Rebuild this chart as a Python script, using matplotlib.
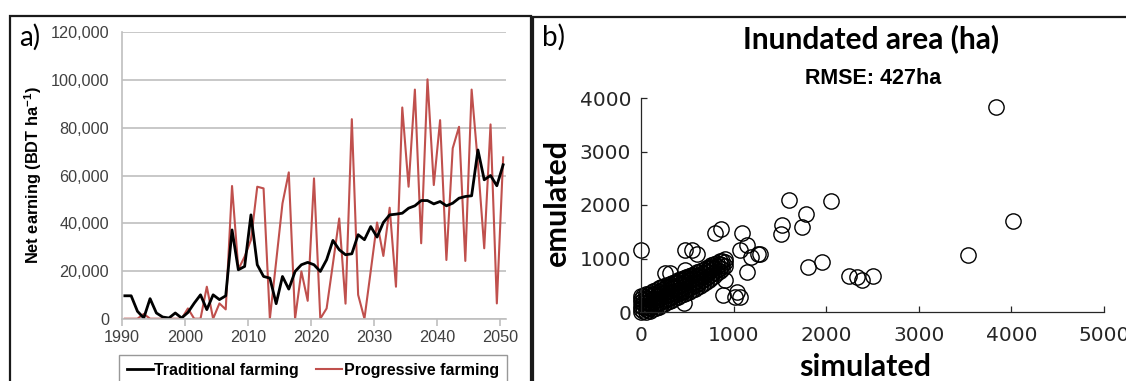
import numpy as np
import matplotlib.pyplot as plt
from matplotlib.patches import Rectangle
from matplotlib.ticker import FuncFormatter

# ---- panel a data (BDT/ha) ----
years = list(range(1990, 2051))
traditional = [9600, 9600, 3100, 300, 8400, 2400, 700, 300, 2400, 300,
               2600, 6500, 10000, 3800, 10000, 8000, 9600, 37200, 20500, 21900,
               43500, 22600, 17700, 17000, 6300, 17700, 12400, 19800, 22600, 23600,
               22600, 19800, 24700, 32800, 28900, 26800, 27200, 35200, 33100, 38600,
               34200, 40300, 43500, 43800, 44200, 46300, 47300, 49500, 49500, 48100,
               49100, 47300, 48400, 50500, 51200, 51500, 70700, 58200, 60000, 55700,
               64500]
progressive = [0, 0, 0, 2000, 0, 0, 0, 0, 0, 0,
               4300, 0, 0, 13400, 0, 6400, 3900, 55600, 20700, 26000,
               33000, 55300, 54600, 0, 24000, 48300, 61300, 0, 19800, 7500,
               58800, 0, 4300, 23000, 42000, 6300, 83600, 10000, 0, 20000,
               40300, 26300, 46500, 13400, 88500, 55300, 96000, 31600, 100300, 56000,
               83200, 24600, 71400, 80400, 24200, 96000, 65000, 29500, 81400, 6400,
               67600]

# ---- panel b data (ha) ----
cluster_sim = [0, 0, 0, 0, 0, 0,
               25, 25, 25, 25, 25,
               50, 50, 50, 50, 50, 50,
               75, 75, 75, 75, 75,
               100, 100, 100, 100, 100, 100,
               130, 130, 130, 130, 130, 130,
               160, 160, 160, 160, 160, 160,
               190, 190, 190, 190, 190, 190,
               220, 220, 220, 220, 220, 220,
               250, 250, 250, 250, 250, 250,
               280, 280, 280, 280, 280, 280,
               310, 310, 310, 310, 310, 310,
               340, 340, 340, 340, 340, 340,
               370, 370, 370, 370, 370, 370,
               400, 400, 400, 400, 400, 400,
               430, 430, 430, 430, 430, 430,
               460, 460, 460, 460, 460, 460,
               490, 490, 490, 490, 490, 490,
               520, 520, 520, 520, 520, 520,
               550, 550, 550, 550, 550, 550,
               580, 580, 580, 580, 580,
               610, 610, 610, 610, 610,
               640, 640, 640, 640, 640,
               670, 670, 670, 670, 670,
               700, 700, 700, 700, 700,
               730, 730, 730, 730, 730,
               760, 760, 760, 760, 760,
               790, 790, 790, 790,
               820, 820, 820, 820,
               850, 850, 850, 850,
               880, 880, 880,
               910, 910, 910]
cluster_emu = [0, 60, 120, 180, 240, 300,
               20, 90, 160, 230, 300,
               0, 50, 120, 190, 260, 330,
               30, 100, 170, 240, 310,
               10, 80, 150, 220, 290, 360,
               50, 120, 190, 260, 330, 390,
               80, 150, 220, 290, 360, 420,
               100, 170, 240, 310, 380, 440,
               130, 200, 270, 340, 410, 460,
               150, 220, 290, 360, 430, 490,
               180, 250, 320, 390, 460, 510,
               200, 270, 340, 410, 480, 530,
               230, 300, 370, 440, 510, 550,
               260, 330, 400, 470, 540, 570,
               280, 350, 420, 490, 560, 590,
               310, 380, 450, 520, 590, 610,
               330, 400, 470, 540, 610, 640,
               360, 430, 500, 570, 640, 660,
               380, 450, 520, 590, 660, 680,
               410, 480, 550, 620, 690, 700,
               430, 500, 570, 640, 710,
               460, 530, 600, 670, 740,
               490, 560, 630, 700, 760,
               520, 590, 660, 730, 790,
               560, 630, 700, 770, 820,
               600, 670, 740, 810, 850,
               640, 710, 780, 850, 880,
               680, 750, 820, 890,
               720, 790, 860, 920,
               760, 830, 900, 950,
               810, 880, 950,
               860, 930, 990]
outlier_sim = [0, 799, 864, 475, 554, 601, 1087, 1141, 1069, 1188, 1267, 1141,
               889, 1033, 1069, 1015, 907, 464, 259, 313, 475,
               1598, 2048, 1782, 1735, 1519, 1508, 1285, 1807, 1958,
               2250, 2329, 2383, 2502, 3535, 4021, 3835]
outlier_emu = [1159, 1471, 1545, 1159, 1159, 1084, 1471, 1252, 1159, 1034, 1084, 753,
               318, 380, 286, 286, 598, 162, 723, 735, 785,
               2093, 2080, 1826, 1595, 1626, 1458, 1084, 835, 929,
               679, 660, 598, 679, 1065, 1707, 3838]

red = '#C0504D'
grey_txt = '#404040'
W, H = 1126, 381

fig = plt.figure(figsize=(W / 100, H / 100), dpi=100)

# panel frames
fig.patches.append(Rectangle((10 / W, -0.05), 521 / W, 1.05 - 16 / H, transform=fig.transFigure,
                             fill=False, edgecolor='#1a1a1a', linewidth=1.6))
fig.patches.append(Rectangle((533 / W, -0.05), 0.6, 1.05 - 17 / H, transform=fig.transFigure,
                             fill=False, edgecolor='#1a1a1a', linewidth=1.6))

# ---------- a) ----------
ax = fig.add_axes([121.7 / W, 1 - 318.7 / H, 384.6 / W, 286.4 / H])
x = np.array(years) + 0.5
ax.plot(x, progressive, color=red, lw=1.5, label='Progressive farming')
ax.plot(x, traditional, color='black', lw=2.0, label='Traditional farming')
ax.set_xlim(1990, 2051)
ax.set_ylim(0, 120000)
ax.set_xticks(range(1990, 2051, 10))
ax.set_yticks(range(0, 120001, 20000))
ax.yaxis.set_major_formatter(FuncFormatter(lambda v, p: f'{int(v):,}'))
ax.grid(axis='y', color='#BFBFBF', lw=1.2)
ax.set_axisbelow(True)
for s in ['top', 'right']:
    ax.spines[s].set_visible(False)
for s in ['left', 'bottom']:
    ax.spines[s].set_color('#BFBFBF')
    ax.spines[s].set_linewidth(1.2)
ax.tick_params(axis='y', length=0, pad=9, labelsize=11.7, labelcolor=grey_txt, labelfontfamily='Liberation Sans')
ax.tick_params(axis='x', length=5, color='#BFBFBF', width=1.2, labelsize=11.7, labelcolor=grey_txt,
               labelfontfamily='Liberation Sans', pad=3)
ax.set_ylabel('Net earning (BDT ha$^{\\mathregular{-1}}$)', fontsize=11.8, fontweight='bold',
              family='Liberation Sans', labelpad=5)
fig.text(19 / W, 1 - 37 / H, 'a)', fontsize=20, family='Lato', va='center', ha='left')

h, l = ax.get_legend_handles_labels()
leg = fig.legend(h[::-1], l[::-1], loc='upper left', bbox_to_anchor=(119 / W, 1 - 355 / H), ncol=2,
                 borderaxespad=0, frameon=True, fancybox=False, edgecolor='#7f7f7f', handlelength=1.6,
                 handletextpad=0.1, columnspacing=1.1, borderpad=0.5,
                 prop={'family': 'Liberation Sans', 'weight': 'bold', 'size': 11.5})
leg.get_frame().set_linewidth(1.0)

# ---------- b) ----------
bx = fig.add_axes([641 / W, 1 - 312 / H, 463 / W, 214 / H])
bx.plot(cluster_sim, cluster_emu, 'o', mfc='none', mec='black', ms=11, mew=1.0, clip_on=False)
bx.plot(outlier_sim, outlier_emu, 'o', mfc='none', mec='black', ms=11, mew=1.0, clip_on=False)
bx.set_xlim(0, 5000)
bx.set_ylim(0, 4000)
bx.set_xticks(range(0, 5001, 1000))
bx.set_yticks(range(0, 4001, 1000))
for s in ['top', 'right']:
    bx.spines[s].set_visible(False)
for s in ['left', 'bottom']:
    bx.spines[s].set_linewidth(0.9)
    bx.spines[s].set_color('#262626')
bx.tick_params(direction='in', length=4, width=0.9, color='#262626', labelsize=14.5, labelcolor='#262626',
               labelfontfamily='DejaVu Sans')
bx.tick_params(axis='x', pad=10)
bx.tick_params(axis='y', pad=7)
fig.text(865 / W, 1 - 367 / H, 'simulated', fontsize=22, fontweight='bold', family='Lato',
         ha='center', va='center')
fig.text(557 / W, 1 - 202 / H, 'emulated', fontsize=22, fontweight='bold', family='Lato',
         ha='center', va='center', rotation=90)
fig.text(871 / W, 1 - 39 / H, 'Inundated area (ha)', fontsize=21.5, fontweight='bold', family='Lato',
         ha='center', va='center')
fig.text(873 / W, 1 - 78 / H, 'RMSE: 427ha', fontsize=15.5, fontweight='bold', family='Liberation Sans',
         ha='center', va='center')
fig.text(542 / W, 1 - 37 / H, 'b)', fontsize=20, family='Lato', va='center', ha='left')

fig.savefig('out.png', dpi=100)
